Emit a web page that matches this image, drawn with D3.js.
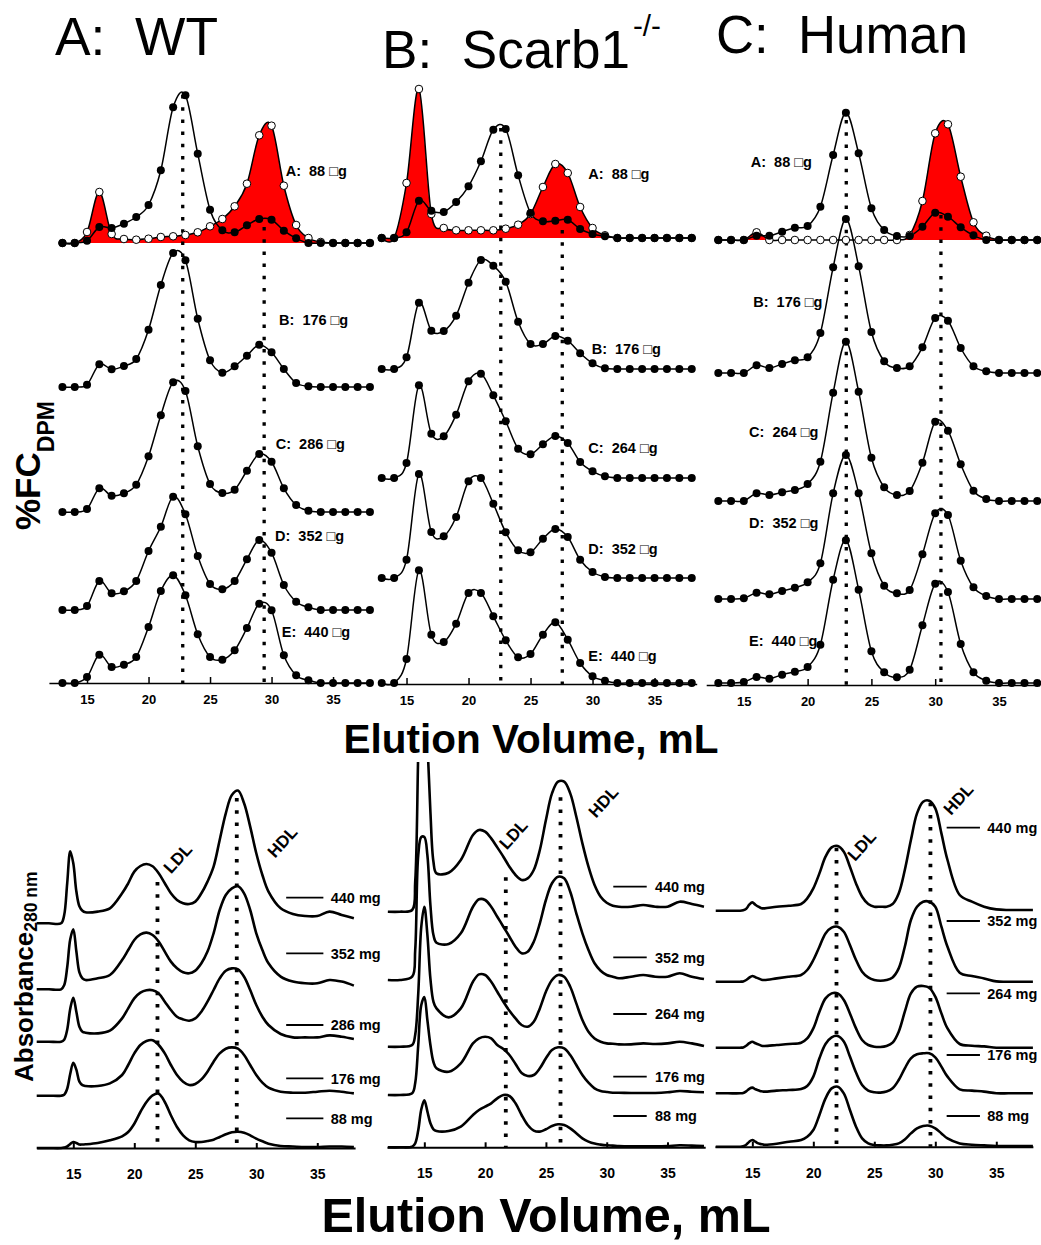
<!DOCTYPE html>
<html>
<head>
<meta charset="utf-8">
<script src="https://cdn.jsdelivr.net/npm/d3@7/dist/d3.min.js"></script>
<style>
html,body{margin:0;padding:0;background:#fff;}
svg{display:block;}
text{font-family:"Liberation Sans",Arial,Helvetica,sans-serif;}
</style>
</head>
<body>
<svg id="chart" width="1041" height="1245"></svg>
<script>
// ================= DATA =================
// Top panels: %FC (DPM) per 1-mL fraction
const fractionVolumes = [13,14,15,16,17,18,19,20,21,22,23,24,25,26,27,28,29,30,31,32,33,34,35,36,37,38];
const tickValues = [15,20,25,30,35];

const panelTitles = ["A:  WT", "B:  Scarb1", "C:  Human"];
const wtLoads = ["A:  88 \u25A1g","B:  176 \u25A1g","C:  286 \u25A1g","D:  352 \u25A1g","E:  440 \u25A1g"];
const koLoads = ["A:  88 \u25A1g","B:  176 \u25A1g","C:  264 \u25A1g","D:  352 \u25A1g","E:  440 \u25A1g"];
const huLoads = ["A:  88 \u25A1g","B:  176 \u25A1g","C:  264 \u25A1g","D:  352 \u25A1g","E:  440 \u25A1g"];

// WT
const wtA_filled = [0,0,2.3,16,15,19.3,26,38,72.7,135.7,147.7,89.3,33.3,12.7,10.7,17.7,24,23.3,12.3,4.7,0,0,0,0,0,0];
const wtA_open   = [0,0,11,51,9,4,3.3,4.3,6,6.7,8,10.7,16.7,24,36.7,59.3,107.7,117.3,57.3,18,5,1,0,0,0,0];
const wtB = [0,0,2.3,22.7,17.7,21,28,57.3,102,134,126.7,68.3,26.7,14.3,20.7,31.3,42.3,34.7,18,4,0.7,0,0,0,0,0];
const wtC = [0,0,3,23.7,16.3,18.7,27.3,55.7,96.7,129.7,121,65.7,28,19,22.3,41.3,58,50.3,23.7,7,1.3,0,0,0,0,0];
const wtD = [0,0,4,29,16.7,18.7,29,59,83.3,113.3,95.7,54,26,20.7,29,50.7,70,57.3,25,8.3,2.7,0,0,0,0,0];
const wtE = [0,0,6,28.3,16,18.3,26,56,92,107.7,87.7,48.7,26,23.3,32.7,55,79.3,72.7,27.7,7.7,2.7,0,0,0,0,0];

// Scarb1 -/-
const koA_filled = [0,0,5.7,37.3,27.3,26,36,51.7,76.7,108.3,109,62.7,25,16.7,17.3,18.3,9,4,1.7,0,0,0,0,0,0,0];
const koA_open   = [0,0,55,149,24,10,7.7,7.7,7.7,7.7,9.3,13.3,24,51,74,65,31,10,2.7,0,0,0,0,0,0,0];
const koB = [0,0,11.7,66.3,38.3,38,53.3,86.3,109,103.3,87.3,47.3,25,25,33,28.3,15.7,5.7,0.7,0,0,0,0,0,0,0];
const koC = [0,0,15,92.7,44.3,41.7,63.3,96.7,104.3,82.7,56.7,29.3,23.7,33.7,42,35,16,6.7,1.7,0,0,0,0,0,0,0];
const koD = [0,0,18.3,104,46,41.7,61,96.7,100,74.3,45.7,27.7,25.7,39.3,49,41,18.3,6,1,0,0,0,0,0,0,0];
const koE = [0,0,24,112.7,48.3,41,59.3,90,90,66.7,42.7,25.7,29,48.3,60.7,43.3,20,6.7,2.3,0,0,0,0,0,0,0];

// Human
const huA_filled = [0,0,0,4.3,4.3,8.3,12.3,14,33.3,85,127.3,86.7,31.7,10,4,4,13.3,27.3,23.3,12.7,4.7,0,0,0,0,0];
const huA_open   = [0,0,0,7.7,0,0,0,0,0,0,0,0,0,0,0,5,39,106.7,115.7,63.3,17.7,4.3,0,0,0,0];
const huB = [0,0,0,7.7,5,9,12.7,15.7,40,105.7,154,106.7,41,11.7,5,6.7,25.7,55,52.3,25,6.7,1.7,0,0,0,0];
const huC = [0,0,0,7.7,6,8.7,11,17,39.3,108.3,159.3,109.3,43.3,13.7,6,10,38.3,79.3,70.3,36.7,10.3,2,0,0,0,0];
const huD = [0,0,0.7,6.3,4.7,8,11.3,16.7,35.7,105.7,144,105.7,45.7,13.3,5.7,9,44.7,85.7,84,38.3,11.7,3,0,0,0,0];
const huE = [0,0,1,6,4.3,8.3,11.3,16,38.3,103.3,142.7,93.3,31.7,10.7,5.7,13.3,57.7,99.3,91,39,10.7,2.3,0,0,0,0];

// Bottom panels: Absorbance 280 nm
const absVolumes = [12,13,14,14.25,14.5,14.75,15,15.25,15.5,15.75,16,17,18,19,19.5,20,20.5,21,21.5,22,22.5,23,23.5,24,24.5,25,25.5,26,26.5,27,27.5,28,28.5,29,29.5,30,30.5,31,32,33,34,35,36,37,38];
const wtMassLabels = ["440 mg","352 mg","286 mg","176 mg","88 mg"];
const koMassLabels = ["440 mg","352 mg","264 mg","176 mg","88 mg"];
const huMassLabels = ["440 mg","352 mg","264 mg","176 mg","88 mg"];

const absA440 = [0,0,0,8,40,72,60,32,17,12.5,11,11.7,15,30,40,51.7,57.3,59.3,57,50,40,30,23.3,20,19.3,21.7,30,41.7,56.7,83.3,110,128.3,132.7,120,96.7,70,48.3,31.7,15,9.3,7.3,7.3,11.7,8.3,5];
const absA352 = [0,0,0,4,22,50,60,38,17,11,9.3,11,14.3,29.3,39.3,49.3,55,56.7,54.3,47.7,37.7,27.7,21,17,16,18.7,26,37.7,56,79.3,94.3,101,103,96,79.3,56,39.3,26,12.7,7.7,6,6,9.3,7.7,3.7];
const absA286 = [0,0,0,2,12,33,44,30,15,10,9,8.3,11,23.3,33.3,43.3,49,51.5,51.5,48.3,40,31.7,25,22.3,21,23.3,30,40,51.7,63.3,71,73.3,72.3,65,51.7,36.7,25,16.7,7.7,4.3,4.3,4.3,6.3,5,2.7];
const absA176 = [0,0,0,1,7,22,33,26,14,10.5,9.7,9.7,12.3,20.7,30.7,42.3,50.7,54.7,55.5,50.7,42.3,30.7,20.7,14,10.7,11.7,16.3,24,34,42.3,47,48.3,47,40.7,30.7,20.7,13,8,4,3,3,4,5,4,2.3];
const absA88  = [0,0,0,0.5,1.5,4,6,5,3.5,3.5,3.7,5,7.7,11.7,16,24.3,36,46,52.7,54.3,46,32.7,21,12.7,7.7,6,6,7,8.3,11,13.7,15.7,16.3,15.3,12.7,9.3,6.7,4.3,2,1.5,1,1,1.5,1.5,1];

const absB440 = [0,0,1.7,30,160,280,280,170,100,50,38.3,39,51.7,76.7,81.7,80,73.3,64.3,55,45,36.7,31.7,33.3,41.7,61.7,91.7,118.3,130,130,118.3,95,68.3,45,26.7,15,9,6,5,5,6.7,5,5,10,7.7,5];
const absB352 = [0,0,3.3,30,125,143,143,125,75,45,37.3,36,46.7,73.3,80.7,80,73.3,63.3,53.3,43.3,33.3,26.7,28.3,38.3,56.7,80,96.7,103.3,101.7,88.3,66.7,46.7,30,16.7,9.3,5,3.3,1.7,3.3,5,3.3,3.3,6.7,3.3,1];
const absB264 = [0,0,1.7,12,53,120,140,112,68,45,38.3,29.3,38.3,65,72.3,71.7,65,55,45,36,28.3,21.7,20,25,38.3,55,66.7,71.7,70,60,43.3,26.7,15,8.3,5,3.3,3,2.3,2.3,3.3,2.7,3.3,5,3.3,0.7];
const absB176 = [0,0,1.7,12,50,90,98,75,50,33,26.7,23.3,31.7,51.7,56.7,58.3,56.7,50,46,40,31,22,19,20,26.7,36.7,45,47.7,46.7,40,30,20,12.3,6.7,4,3,2.3,2.3,2,2,2,2.7,4,3.3,2.7];
const absB88  = [0,0,0.7,4,17,38,47,36,24,18,16.3,16.3,20.7,32.3,37.3,40.7,44,49,52.3,51.3,44,32.3,22.3,16.7,15.7,18,21.3,23,22.3,19,14,9,5.7,3.7,2.7,2,1.7,1.3,1,1,1,1.3,2,1.7,1.3];

const absC440 = [0,0,0,0.5,2,6,8.3,6,4,2.5,2.3,4,5,6.7,12.3,22.3,37.3,54,63.3,64.7,59,44,27.3,14,6.7,4,4,4,6.7,17.3,40.7,70.7,97.3,109,110,102.3,77.3,50.7,15.7,9,4,1.3,0.7,0.7,0.7];
const absC352 = [0,0,0,0.3,1.7,4,5.7,4.5,3.3,2,1.7,3.3,5,6.7,11.7,21.7,35,48.3,54,55,50,36.7,21.7,10,4.3,1.7,1,1.7,4.3,13.3,35,61.7,75,80,80,75,55,35,9,5.7,3.3,0.3,0,0,0];
const absC264 = [0,0,0,0.3,2,4.5,6,4.5,3.3,2,1.7,2.7,3.7,5,9.3,19.3,36,49.3,54.3,54.3,47.7,34.3,19.3,7.7,2.7,1,0.7,1.7,5,16,36,54.3,61,61.7,60,51,34.3,19.3,3.7,2,1.3,0,0,0,0];
const absC176 = [0,0,0,0.3,2,4.5,5.7,4,3,2,1.7,2.7,3.3,4.3,7.3,16.7,35,49.3,56,57.3,51.7,36.7,20.7,8.3,2.7,1,0.7,1.7,5,13.3,25,35,39,40,40,36,26.7,16.7,4,2.7,1.7,0,0,0,0];
const absC88  = [0,0,0,0.5,2,5,6.7,5,3.3,2.5,2,3,5,6.7,10,16.7,31.7,48.3,58.3,60,53.3,36.7,20,8.3,3.3,1.7,1.3,1.3,2,3.3,7.3,13.3,18.3,20.7,21,18.3,13.3,8.3,3.3,2,1.3,0.7,0.7,0.7,0.7];

// Reference elution volumes (LDL, HDL)
const topRefVolumes = [[22.78,29.4],[22.6,27.56],[23.03,30.45]];
const bottomRefVolumes = [[21.9,28.4],[21.7,26.2],[21.9,29.6]];

// ================= LAYOUT =================
const svg = d3.select("#chart");
const FONT = '"Liberation Sans",Arial,Helvetica,sans-serif';

const topPanels = [
  {xDomain:[11.9,38.2], xRange:[48.9,372.4], axisY:683, offsets:[440,296,171,73,0],
   filled:wtA_filled, open:wtA_open, traces:[wtB,wtC,wtD,wtE], loads:wtLoads,
   refs:topRefVolumes[0], refTops:[588,456],
   labelPos:[[31.15,507],[30.61,358],[30.34,233.7],[30.28,142.3],[30.83,46.3]]},
  {xDomain:[12.7,38.4], xRange:[378.0,696.7], axisY:684, offsets:[446,315,206,106,1],
   filled:koA_filled, open:koA_open, traces:[koB,koC,koD,koE], loads:koLoads,
   refs:topRefVolumes[1], refTops:[556,454],
   labelPos:[[29.66,504.7],[29.93,330],[29.66,230.7],[29.66,130],[29.66,23.3]]},
  {xDomain:[12.05,38.2], xRange:[706.2,1039.8], axisY:685, offsets:[445,312,184,86,2],
   filled:huA_filled, open:huA_open, traces:[huB,huC,huD,huE], loads:huLoads,
   refs:topRefVolumes[2], refTops:[565,470],
   labelPos:[[15.54,517.7],[15.74,377.7],[15.41,248.3],[15.41,156.7],[15.41,39]]}
];

function styleAxis(sel, fs, sw){
  sel.attr("font-family", FONT).attr("font-size", fs).attr("font-weight","bold");
  sel.select(".domain").attr("stroke","#000").attr("stroke-width", sw);
  sel.selectAll(".tick line").attr("stroke","#000").attr("stroke-width", sw);
  sel.selectAll(".tick text").attr("fill","#000");
}

topPanels.forEach(p => {
  const x = d3.scaleLinear().domain(p.xDomain).range(p.xRange);
  const y = d3.scaleLinear().domain([0,600]).range([p.axisY, p.axisY-600]);
  const g = svg.append("g");
  const curve = d3.curveCardinal.tension(0);
  const off = p.offsets;

  // red area under open-circle series of trace A
  const area = d3.area()
    .x((d,i)=>x(fractionVolumes[i]))
    .y0(y(off[0]))
    .y1(d=>y(off[0]+d))
    .curve(curve);
  g.append("path").datum(p.open).attr("d",area).attr("fill","#ff0000").attr("stroke","none");

  // reference dotted lines
  p.refs.forEach((v,k)=>{
    g.append("line")
      .attr("x1",x(v)).attr("x2",x(v))
      .attr("y1",y(p.refTops[k])).attr("y2",y(0))
      .attr("stroke","#000").attr("stroke-width",3.3)
      .attr("stroke-dasharray","3.5,8.7");
  });

  const mkLine = o => d3.line()
    .x((d,i)=>x(fractionVolumes[i]))
    .y(d=>y(o+d))
    .curve(curve);

  // open series line
  g.append("path").datum(p.open).attr("d",mkLine(off[0]))
    .attr("fill","none").attr("stroke","#000").attr("stroke-width",1.5);
  // filled series lines
  const allFilled = [p.filled].concat(p.traces);
  allFilled.forEach((vals,k)=>{
    g.append("path").datum(vals).attr("d",mkLine(off[k]))
      .attr("fill","none").attr("stroke","#000").attr("stroke-width",1.5);
  });
  // open markers
  g.append("g").selectAll("circle").data(p.open).join("circle")
    .attr("cx",(d,i)=>x(fractionVolumes[i]))
    .attr("cy",d=>y(off[0]+d))
    .attr("r",3.8).attr("fill","#fff").attr("stroke","#000").attr("stroke-width",1);
  // filled markers
  allFilled.forEach((vals,k)=>{
    g.append("g").selectAll("circle").data(vals).join("circle")
      .attr("cx",(d,i)=>x(fractionVolumes[i]))
      .attr("cy",d=>y(off[k]+d))
      .attr("r",4).attr("fill","#000");
  });

  // load labels
  p.loads.forEach((t,k)=>{
    g.append("text")
      .attr("x",x(p.labelPos[k][0]))
      .attr("y",y(p.labelPos[k][1]))
      .attr("font-size",14.5).attr("font-weight","bold")
      .style("white-space","pre")
      .text(t);
  });

  // axis
  const ax = d3.axisBottom(x).tickValues(tickValues).tickSizeInner(-6).tickSizeOuter(0).tickPadding(12);
  g.append("g").attr("transform",`translate(0,${p.axisY})`).call(ax)
    .call(s=>styleAxis(s,13,1.5));
});

// Bottom panels
const bottomPanels = [
  {xDomain:[12.0,38.1], xRange:[36.7,355.1], axisY:1148, offsets:[224.7,158.7,106.3,52.3,0],
   traces:[absA440,absA352,absA286,absA176,absA88], labels:wtMassLabels,
   refs:bottomRefVolumes[0], refTops:[266,350],
   ldl:[23.56,289.7], hdl:[32.13,306.3],
   mass:{x1:32.45,x2:35.5,tx:36.1, ys:[250.3,194.7,123,69.7,29.7]}},
  {xDomain:[11.93,38.1], xRange:[387.0,705.2], axisY:1147.3, offsets:[235.6,167.3,100.6,52.3,0],
   traces:[absB440,absB352,absB264,absB176,absB88], labels:koMassLabels,
   refs:bottomRefVolumes[1], refTops:[270,350],
   ldl:[22.32,313], hdl:[29.72,345.6], clipTop:762,
   mass:{x1:30.54,x2:33.29,tx:33.97, ys:[260.6,190,133.3,70.6,31.3]}},
  {xDomain:[11.94,38.0], xRange:[715.0,1032.9], axisY:1146.7, offsets:[236,165,99,53.4,0],
   traces:[absC440,absC352,absC264,absC176,absC88], labels:huMassLabels,
   refs:bottomRefVolumes[2], refTops:[299,344],
   ldl:[23.97,301], hdl:[31.89,347.7],
   mass:{x1:30.93,x2:33.66,tx:34.26, ys:[319,225.7,153.4,91.7,30.7]}}
];

bottomPanels.forEach((p,pi) => {
  const x = d3.scaleLinear().domain(p.xDomain).range(p.xRange);
  const y = d3.scaleLinear().domain([0,500]).range([p.axisY, p.axisY-500]);
  const g = svg.append("g");
  const clipId = "clipB"+pi;
  svg.append("defs").append("clipPath").attr("id",clipId).append("rect")
    .attr("x",p.xRange[0]-5).attr("y",p.clipTop||0)
    .attr("width",p.xRange[1]-p.xRange[0]+10).attr("height",p.axisY-(p.clipTop||0)+5);

  // dotted refs
  p.refs.forEach((v,k)=>{
    g.append("line")
      .attr("x1",x(v)).attr("x2",x(v))
      .attr("y1",y(p.refTops[k])).attr("y2",y(0))
      .attr("stroke","#000").attr("stroke-width",3.8)
      .attr("stroke-dasharray","3.5,8.7");
  });

  const curve = d3.curveCatmullRom.alpha(0.5);
  p.traces.forEach((vals,k)=>{
    const line = d3.line()
      .x((d,i)=>x(absVolumes[i]))
      .y(d=>y(p.offsets[k]+d))
      .curve(curve);
    g.append("path").datum(vals).attr("d",line)
      .attr("clip-path",`url(#${clipId})`)
      .attr("fill","none").attr("stroke","#000").attr("stroke-width",2.6)
      .attr("stroke-linejoin","round");
  });

  // LDL / HDL labels
  [["LDL",p.ldl],["HDL",p.hdl]].forEach(([t,pos])=>{
    const cx = x(pos[0]), cy = y(pos[1]);
    g.append("text")
      .attr("transform",`translate(${cx},${cy}) rotate(-48)`)
      .attr("text-anchor","middle").attr("dy","0.35em")
      .attr("font-size",17).attr("font-weight","bold")
      .text(t);
  });

  // mass labels
  p.labels.forEach((t,k)=>{
    const yy = y(p.mass.ys[k]);
    g.append("line").attr("x1",x(p.mass.x1)).attr("x2",x(p.mass.x2))
      .attr("y1",yy).attr("y2",yy).attr("stroke","#000").attr("stroke-width",1.8);
    g.append("text").attr("x",x(p.mass.tx)).attr("y",yy).attr("dy","0.36em")
      .attr("font-size",14.5).attr("font-weight","bold").text(t);
  });

  const ax = d3.axisBottom(x).tickValues(tickValues).tickSizeInner(-5).tickSizeOuter(0).tickPadding(21);
  g.append("g").attr("transform",`translate(0,${p.axisY})`).call(ax)
    .call(s=>styleAxis(s,14,2));
});

// ================= TITLES =================
const titleFont = '"Liberation Sans Narrow","Arial Narrow","Liberation Sans",Arial,sans-serif';
svg.append("text").attr("x",55).attr("y",55).attr("font-size",53).attr("font-family",titleFont)
  .attr("textLength",163).attr("lengthAdjust","spacingAndGlyphs").style("white-space","pre").text(panelTitles[0]);
svg.append("text").attr("x",382).attr("y",68).attr("font-size",54).attr("font-family",titleFont)
  .attr("textLength",248).attr("lengthAdjust","spacingAndGlyphs").style("white-space","pre").text(panelTitles[1]);
svg.append("text").attr("x",633).attr("y",36).attr("font-size",30).attr("font-family",titleFont)
  .attr("textLength",28).attr("lengthAdjust","spacingAndGlyphs").text("-/-");
svg.append("text").attr("x",716).attr("y",53).attr("font-size",54).attr("font-family",titleFont)
  .attr("textLength",252).attr("lengthAdjust","spacingAndGlyphs").style("white-space","pre").text(panelTitles[2]);

// y-axis title top
const yt = svg.append("text").attr("transform","translate(40,530) rotate(-90)")
  .attr("font-size",35).attr("font-weight","bold");
yt.append("tspan").text("%FC");
yt.append("tspan").attr("font-size",23).attr("dy",14).text("DPM");

// y-axis title bottom
const yb = svg.append("text").attr("transform","translate(33,1082) rotate(-90)")
  .attr("font-size",26).attr("font-weight","bold");
yb.append("tspan").text("Absorbance");
yb.append("tspan").attr("font-size",17.5).attr("dy",4).text("280 nm");

// x-axis titles
svg.append("text").attr("x",531).attr("y",753).attr("text-anchor","middle")
  .attr("font-size",40.5).attr("font-weight","bold").text("Elution Volume, mL");
svg.append("text").attr("x",546).attr("y",1232).attr("text-anchor","middle")
  .attr("font-size",48.5).attr("font-weight","bold").text("Elution Volume, mL");
</script>
</body>
</html>
